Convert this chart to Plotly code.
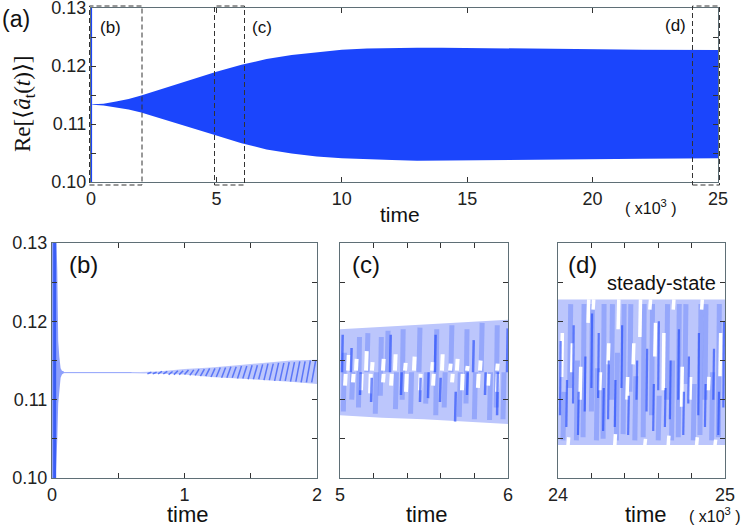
import plotly.graph_objects as go

W, H = 747, 528

# (a) envelope of the oscillation, time in units of 10^3
a_time = [0.05, 0.5, 1, 1.5, 2, 3, 4, 5, 6, 7, 8, 9, 10, 11, 12, 13, 14, 15, 16, 17, 18, 20, 22, 25]
a_upper = [0.1134, 0.1135, 0.1139, 0.1143, 0.1149, 0.1163, 0.1177, 0.119, 0.1202, 0.1212, 0.1219, 0.1224, 0.1228, 0.123, 0.1231, 0.12316, 0.12316, 0.1231, 0.12308, 0.12305, 0.123, 0.1229, 0.1228, 0.12276]
a_lower = [0.1133, 0.1132, 0.1128, 0.1125, 0.112, 0.1106, 0.1093, 0.108, 0.1067, 0.1056, 0.1049, 0.1044, 0.1041, 0.1039, 0.1038, 0.10368, 0.10367, 0.10368, 0.1037, 0.1038, 0.1038, 0.1039, 0.104, 0.1041]
a_spike_time = [0.02, 0.02]
a_spike_val = [0.10, 0.13]

# (b) early transient and slow growth
b_spike_time = [0, 0.028, 0.034, 0.04, 0.047, 0.055, 0.065, 0.075, 0.09]
b_spike_upper = [0.13, 0.13, 0.13, 0.1265, 0.1175, 0.1155, 0.114, 0.1137, 0.1136]
b_spike_lower = [0.10, 0.10, 0.101, 0.105, 0.1095, 0.111, 0.1128, 0.1132, 0.1134]
b_core_time = [0.02, 0.02]
b_core_val = [0.10, 0.13]
b_flat_time = [0.07, 0.7]
b_flat_val = [0.11345, 0.11345]
b_env_time = [0.6, 0.8, 1.0, 1.2, 1.4, 1.6, 1.8, 2.0]
b_env_upper = [0.1135, 0.1136, 0.1139, 0.1141, 0.1144, 0.1147, 0.115, 0.1151]
b_env_lower = [0.1134, 0.1133, 0.1132, 0.1129, 0.1127, 0.1125, 0.1123, 0.112]
b_stripe_time = [0.72, 0.76, 0.8, 0.84, 0.88, 0.92, 0.96, 1.0, 1.04, 1.08, 1.12, 1.16, 1.2, 1.24, 1.28, 1.32, 1.36, 1.4, 1.44, 1.48, 1.52, 1.56, 1.6, 1.64, 1.68, 1.72, 1.76, 1.8, 1.84, 1.88, 1.92, 1.96]
b_stripe_lo = [0.1133, 0.1133, 0.1133, 0.1133, 0.1132, 0.1132, 0.1132, 0.1132, 0.1131, 0.1131, 0.113, 0.113, 0.1129, 0.1129, 0.1128, 0.1128, 0.1128, 0.1127, 0.1127, 0.1126, 0.1126, 0.1126, 0.1125, 0.1125, 0.1124, 0.1124, 0.1124, 0.1123, 0.1123, 0.1122, 0.1122, 0.1122]
b_stripe_hi = [0.1135, 0.1135, 0.1136, 0.1136, 0.1136, 0.1137, 0.1137, 0.1138, 0.1138, 0.1139, 0.1139, 0.114, 0.114, 0.1141, 0.1141, 0.1142, 0.1142, 0.1143, 0.1143, 0.1144, 0.1144, 0.1145, 0.1146, 0.1146, 0.1147, 0.1147, 0.1148, 0.1148, 0.1149, 0.1149, 0.115, 0.115]

# (c) window 5 to 6
c_env_time = [5.0, 5.25, 5.5, 5.75, 6.0]
c_env_upper = [0.119, 0.1193, 0.1196, 0.1199, 0.1202]
c_env_lower = [0.108, 0.1077, 0.1075, 0.1072, 0.1069]
c_mid_time = [5.02, 5.07, 5.11, 5.16, 5.21, 5.24, 5.28, 5.33, 5.37, 5.42, 5.47, 5.51, 5.57, 5.62, 5.66, 5.71, 5.75, 5.8, 5.84, 5.89, 5.93, 5.97]
c_mid_lo = [0.1085, 0.11, 0.109, 0.1135, 0.1082, 0.1105, 0.1135, 0.1088, 0.11, 0.1082, 0.1135, 0.1095, 0.108, 0.109, 0.1135, 0.1078, 0.1095, 0.1075, 0.1135, 0.1074, 0.109, 0.1075]
c_mid_hi = [0.116, 0.1135, 0.118, 0.1185, 0.1135, 0.118, 0.1188, 0.1135, 0.119, 0.1135, 0.1192, 0.1135, 0.119, 0.1135, 0.1195, 0.1135, 0.119, 0.1135, 0.1198, 0.1135, 0.1195, 0.1135]
c_gap_up_time = [5.048, 5.095, 5.155, 5.19, 5.256, 5.327, 5.387, 5.44, 5.548, 5.607, 5.655, 5.696, 5.756, 5.833, 5.935]
c_gap_up_lo = [0.1137, 0.1137, 0.1137, 0.1137, 0.1137, 0.1137, 0.1137, 0.1137, 0.1137, 0.1137, 0.1137, 0.1137, 0.1137, 0.1137, 0.1137]
c_gap_up_hi = [0.1157, 0.1152, 0.1162, 0.1148, 0.1152, 0.1158, 0.1147, 0.1155, 0.1148, 0.1158, 0.1146, 0.1152, 0.1143, 0.115, 0.1146]
c_gap_dn_time = [5.03, 5.077, 5.125, 5.179, 5.256, 5.304, 5.393, 5.476, 5.554, 5.667, 5.726, 5.821, 5.881, 5.935]
c_gap_dn_lo = [0.1118, 0.1122, 0.1112, 0.1108, 0.1122, 0.1118, 0.111, 0.1112, 0.1118, 0.1122, 0.1112, 0.1115, 0.1118, 0.111]
c_gap_dn_hi = [0.1133, 0.1133, 0.1133, 0.1133, 0.1133, 0.1133, 0.1133, 0.1133, 0.1133, 0.1133, 0.1133, 0.1133, 0.1133, 0.1133]
c_dark_time = [5.012, 5.065, 5.119, 5.185, 5.298, 5.363, 5.476, 5.524, 5.565, 5.595, 5.685, 5.756, 5.792, 5.863, 5.935, 5.994]
c_dark_lo = [0.1135, 0.1135, 0.1106, 0.1097, 0.1135, 0.1106, 0.1097, 0.1102, 0.1135, 0.1097, 0.1072, 0.1106, 0.1135, 0.1106, 0.108, 0.1135]
c_dark_hi = [0.1183, 0.1166, 0.1135, 0.1128, 0.1183, 0.1135, 0.1128, 0.1135, 0.1183, 0.1128, 0.111, 0.1135, 0.1176, 0.1135, 0.1135, 0.1191]

# (d) window 24 to 25, steady state
d_env_time = [24.0, 25.0]
d_env_upper = [0.1228, 0.1228]
d_env_lower = [0.1042, 0.1042]
d_mid_time = [24.03, 24.07, 24.11, 24.15, 24.2, 24.23, 24.27, 24.32, 24.35, 24.39, 24.43, 24.46, 24.51, 24.56, 24.6, 24.65, 24.68, 24.72, 24.76, 24.81, 24.85, 24.88, 24.92, 24.96]
d_mid_lo = [0.1048, 0.1115, 0.1048, 0.1052, 0.1085, 0.1048, 0.105, 0.11, 0.1048, 0.1056, 0.111, 0.1048, 0.1052, 0.108, 0.1048, 0.11, 0.1048, 0.1052, 0.112, 0.1048, 0.1055, 0.11, 0.1048, 0.1052]
d_mid_hi = [0.111, 0.1222, 0.115, 0.1222, 0.1222, 0.114, 0.1222, 0.1222, 0.116, 0.1222, 0.1222, 0.113, 0.1222, 0.1222, 0.1105, 0.1222, 0.115, 0.1222, 0.1222, 0.112, 0.1222, 0.1222, 0.1135, 0.1222]
d_gap_time = [24.022, 24.082, 24.132, 24.18, 24.21, 24.25, 24.3, 24.36, 24.413, 24.45, 24.49, 24.55, 24.58, 24.63, 24.69, 24.74, 24.79, 24.86, 24.9, 24.97, 24.06, 24.34, 24.52, 24.66, 24.83, 24.94]
d_gap_lo = [0.1129, 0.1135, 0.11, 0.1198, 0.1215, 0.1112, 0.1145, 0.119, 0.11, 0.1145, 0.118, 0.1215, 0.1155, 0.1112, 0.1215, 0.1091, 0.11, 0.1215, 0.1112, 0.113, 0.1042, 0.1042, 0.1042, 0.1042, 0.1042, 0.1042]
d_gap_hi = [0.1185, 0.1172, 0.1142, 0.1228, 0.1228, 0.1135, 0.1172, 0.1228, 0.1129, 0.1172, 0.1228, 0.1228, 0.1198, 0.1185, 0.1228, 0.1142, 0.1129, 0.1228, 0.1129, 0.1185, 0.1052, 0.1056, 0.105, 0.1054, 0.1052, 0.1049]
d_dark_time = [24.012, 24.05, 24.09, 24.12, 24.16, 24.2, 24.24, 24.27, 24.3, 24.34, 24.38, 24.42, 24.47, 24.53, 24.57, 24.6, 24.64, 24.67, 24.72, 24.75, 24.78, 24.84, 24.88, 24.93, 24.96, 24.99]
d_dark_lo = [0.108, 0.1065, 0.1095, 0.1055, 0.1085, 0.1115, 0.1102, 0.106, 0.1075, 0.1065, 0.1115, 0.1055, 0.11, 0.1085, 0.106, 0.1112, 0.1065, 0.1075, 0.11, 0.1055, 0.1095, 0.108, 0.1065, 0.11, 0.1055, 0.109]
d_dark_hi = [0.1175, 0.1125, 0.1195, 0.111, 0.1155, 0.121, 0.1185, 0.1115, 0.115, 0.1125, 0.1195, 0.1105, 0.115, 0.1165, 0.112, 0.12, 0.1115, 0.115, 0.119, 0.111, 0.1155, 0.1185, 0.112, 0.1165, 0.111, 0.12]

y_ticks = [0.10, 0.105, 0.11, 0.115, 0.12, 0.125, 0.13]
y_labels = ['0.10', '', '0.11', '', '0.12', '', '0.13']
a_ticks = [0, 5, 10, 15, 20, 25]
a_labels = ['0', '5', '10', '15', '20', '25']
b_ticks = [0, 0.5, 1, 1.5, 2]
b_labels = ['0', '', '1', '', '2']
c_ticks = [5, 5.2, 5.4, 5.6, 5.8, 6]
c_labels = ['5', '', '', '', '', '6']
d_ticks = [24, 24.2, 24.4, 24.6, 24.8, 25]
d_labels = ['24', '', '', '', '', '25']

SOLID = '#1b45fc'
LIGHT = '#bcc6fc'
MID = 'rgba(60,95,250,0.3)'
DARK = 'rgba(25,65,250,0.6)'
AXIS = '#5f6f76'
SANS = 'Liberation Sans, Arial, sans-serif'

fig = go.Figure()


# filled region between two envelopes
def add_band(t, upper, lower, color, ax):
    fig.add_trace(go.Scatter(
        x=t + t[::-1], y=upper + lower[::-1], mode='lines', fill='toself',
        fillcolor=color, line=dict(width=0), xaxis='x' + ax, yaxis='y' + ax,
        hoverinfo='skip', showlegend=False
    ))


def add_line(t, v, color, width, ax):
    fig.add_trace(go.Scatter(
        x=t, y=v, mode='lines', line=dict(color=color, width=width),
        xaxis='x' + ax, yaxis='y' + ax, hoverinfo='skip', showlegend=False
    ))


# separate short strokes, one per entry
def add_strokes(t, lo, hi, color, width, ax, lean=0.0):
    xs, ys = [], []
    for i in range(len(t)):
        xs += [t[i], t[i] + lean, None]
        ys += [lo[i], hi[i], None]
    add_line(xs, ys, color, width, ax)


add_band(a_time, a_upper, a_lower, SOLID, '')
add_line(a_spike_time, a_spike_val, SOLID, 1.2, '')

add_band(b_spike_time, b_spike_upper, b_spike_lower, '#8ea0fb', '2')
add_line(b_core_time, b_core_val, '#3a5ef5', 3, '2')
add_line(b_flat_time, b_flat_val, '#8ea0fb', 1, '2')
add_band(b_env_time, b_env_upper, b_env_lower, LIGHT, '2')
add_strokes(b_stripe_time, b_stripe_lo, b_stripe_hi, '#5a76f7', 1.5, '2', lean=0.03)

add_band(c_env_time, c_env_upper, c_env_lower, LIGHT, '3')
add_strokes(c_mid_time, c_mid_lo, c_mid_hi, MID, 5, '3', lean=0.006)
add_strokes(c_gap_up_time, c_gap_up_lo, c_gap_up_hi, 'white', 4, '3', lean=0.004)
add_strokes(c_gap_dn_time, c_gap_dn_lo, c_gap_dn_hi, 'white', 4, '3', lean=0.004)
add_strokes(c_dark_time, c_dark_lo, c_dark_hi, DARK, 2.5, '3', lean=0.004)

add_band(d_env_time, d_env_upper, d_env_lower, LIGHT, '4')
add_strokes(d_mid_time, d_mid_lo, d_mid_hi, MID, 5, '4', lean=0.006)
add_strokes(d_gap_time, d_gap_lo, d_gap_hi, 'white', 3.5, '4', lean=0.004)
add_strokes(d_dark_time, d_dark_lo, d_dark_hi, DARK, 2.2, '4', lean=0.004)


def x_axis(left, right, rng, ticks, labels, anchor):
    return dict(
        domain=[left / W, right / W], range=rng, anchor=anchor, automargin=False,
        tickmode='array', tickvals=ticks, ticktext=labels,
        ticks='inside', ticklen=5, tickcolor='#333333', mirror='allticks', showline=True,
        linecolor=AXIS, showgrid=False, zeroline=False, layer='above traces',
        ticklabeloverflow='allow', tickfont=dict(size=18, color='#222222')
    )


def y_axis(top, bottom, anchor, labelled):
    return dict(
        domain=[1 - bottom / H, 1 - top / H], range=[0.10, 0.13], anchor=anchor, automargin=False,
        tickmode='array', tickvals=y_ticks, ticktext=y_labels, showticklabels=labelled,
        ticks='inside', ticklen=5, tickcolor='#333333',
        mirror='allticks', showline=True, linecolor=AXIS, showgrid=False, zeroline=False,
        layer='above traces', ticklabeloverflow='allow', tickfont=dict(size=18, color='#222222')
    )


fig.update_layout(
    width=W, height=H, margin=dict(l=0, r=0, t=0, b=0), showlegend=False,
    paper_bgcolor='white', plot_bgcolor='white', font=dict(family=SANS),
    xaxis=x_axis(91, 718, [0, 25], a_ticks, a_labels, 'y'),
    yaxis=y_axis(8, 182, 'x', True),
    xaxis2=x_axis(52, 317, [0, 2], b_ticks, b_labels, 'y2'),
    yaxis2=y_axis(243, 478, 'x2', True),
    xaxis3=x_axis(340, 508, [5, 6], c_ticks, c_labels, 'y3'),
    yaxis3=y_axis(243, 478, 'x3', False),
    xaxis4=x_axis(558, 725, [24, 25], d_ticks, d_labels, 'y4'),
    yaxis4=y_axis(243, 478, 'x4', False),
)

# panel labels and notes, placed in pixels of the page
notes = [
    ('(a)', 16, 19, 23), ('(b)', 110, 27, 17), ('(c)', 262, 27, 17), ('(d)', 675, 25, 17),
    ('(b)', 83, 264, 24), ('(c)', 366, 264, 24), ('(d)', 582, 264, 24),
    ('steady-state', 661, 283, 20), ('( x10<sup>3</sup> )', 651, 207, 16), ('( x10<sup>3</sup> )', 715, 515, 16),
    ('time', 400, 214, 21), ('time', 188, 514, 22), ('time', 427, 514, 22), ('time', 646, 514, 22),
]
for text, px, py, size in notes:
    fig.add_annotation(
        text=text, x=px / W, y=1 - py / H, xref='paper', yref='paper', showarrow=False,
        xanchor='center', yanchor='middle', font=dict(size=size, color='#111111')
    )

fig.add_annotation(
    text='Re[⟨<i>â</i><sub>t</sub>(<i>t</i>)⟩]', x=24 / W, y=1 - 103 / H, xref='paper', yref='paper',
    showarrow=False, textangle=-90, xanchor='center', yanchor='middle',
    font=dict(family='Liberation Serif, DejaVu Serif, serif', size=23, color='#111111')
)

# dashed boxes that mark the zoomed windows
for left, right in [(89.5, 142), (214.5, 244.5), (692.5, 719.5)]:
    fig.add_shape(
        type='rect', xref='paper', yref='paper', x0=left / W, x1=right / W,
        y0=1 - 185 / H, y1=1 - 6 / H, line=dict(color='#333333', width=1, dash='5px,3px')
    )

# page margin would push the figure off its pixel positions
fig.write_html("out.html", config={'displayModeBar': False}, post_script="document.body.style.margin='0';")
